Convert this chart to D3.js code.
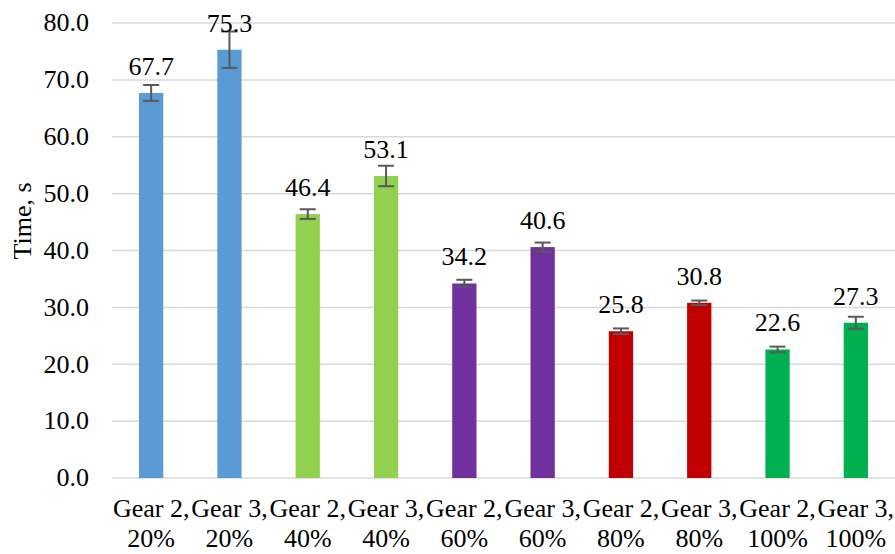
<!DOCTYPE html>
<html>
<head>
<meta charset="utf-8">
<script src="https://cdn.jsdelivr.net/npm/d3@7"></script>
<style>
  html, body { margin: 0; padding: 0; background: #fff; }
</style>
</head>
<body>
<svg id="chart" width="895" height="554"></svg>
<script>
// Mean time per gear / throttle setting, with error bar half-widths
const categories = [
  ["Gear 2,", "20%"], ["Gear 3,", "20%"],
  ["Gear 2,", "40%"], ["Gear 3,", "40%"],
  ["Gear 2,", "60%"], ["Gear 3,", "60%"],
  ["Gear 2,", "80%"], ["Gear 3,", "80%"],
  ["Gear 2,", "100%"], ["Gear 3,", "100%"]
];
const values = [67.7, 75.3, 46.4, 53.1, 34.2, 40.6, 25.8, 30.8, 22.6, 27.3];
const errors = [1.4, 3.2, 0.85, 1.8, 0.65, 0.8, 0.5, 0.4, 0.5, 1.05];
const colors = ["#5B9BD5", "#5B9BD5", "#92D050", "#92D050", "#7030A0",
                "#7030A0", "#C00000", "#C00000", "#00B050", "#00B050"];
const yTicks = [0, 10, 20, 30, 40, 50, 60, 70, 80];
const yTitle = "Time, s";

const FONT = "'Liberation Serif', 'Times New Roman', serif";
const FS = 26;

const svg = d3.select("#chart");
const plotLeft = 112, plotRight = 895, plotTop = 23, plotBottom = 478;

const x = d3.scaleBand().domain(d3.range(values.length)).range([plotLeft, plotRight]).paddingInner(0.69).paddingOuter(0.345);
const y = d3.scaleLinear().domain([0, 80]).range([plotBottom, plotTop]);

// gridlines
svg.append("g").selectAll("line").data(yTicks).join("line")
  .attr("x1", plotLeft).attr("x2", plotRight)
  .attr("y1", d => y(d)).attr("y2", d => y(d))
  .attr("stroke", "#D9D9D9").attr("stroke-width", 1.5);

// y axis labels
const yAxis = d3.axisLeft(y).tickValues(yTicks).tickFormat(d3.format(".1f")).tickSize(0).tickPadding(23);
const gy = svg.append("g").attr("transform", `translate(${plotLeft},0)`).call(yAxis);
gy.select(".domain").remove();
gy.attr("font-family", null).attr("font-size", null);
gy.selectAll("text").style("font-family", FONT).style("font-size", FS + "px")
  .attr("fill", "#000").attr("dy", "0.3em");

// bars
svg.append("g").selectAll("rect").data(values).join("rect")
  .attr("x", (d, i) => x(i)).attr("width", x.bandwidth())
  .attr("y", d => y(d)).attr("height", d => y(0) - y(d))
  .attr("fill", (d, i) => colors[i]);

// error bars
const eg = svg.append("g").attr("stroke", "#595959").attr("stroke-width", 2);
values.forEach((v, i) => {
  const cx = x(i) + x.bandwidth() / 2;
  eg.append("line").attr("x1", cx).attr("x2", cx).attr("y1", y(v + errors[i])).attr("y2", y(v - errors[i]));
  eg.append("line").attr("x1", cx - 8).attr("x2", cx + 8).attr("y1", y(v + errors[i])).attr("y2", y(v + errors[i]));
  eg.append("line").attr("x1", cx - 8).attr("x2", cx + 8).attr("y1", y(v - errors[i])).attr("y2", y(v - errors[i]));
});

// value labels
svg.append("g").selectAll("text").data(values).join("text")
  .attr("x", (d, i) => x(i) + x.bandwidth() / 2)
  .attr("y", d => y(d) - 18)
  .attr("text-anchor", "middle")
  .style("font-family", FONT).style("font-size", FS + "px")
  .text(d => d.toFixed(1));

// category labels (two lines)
const xl = svg.append("g").selectAll("text").data(categories).join("text")
  .attr("text-anchor", "middle")
  .style("font-family", FONT).style("font-size", FS + "px");
xl.append("tspan").attr("x", (d, i) => x(i) + x.bandwidth() / 2).attr("y", 517).text(d => d[0]);
xl.append("tspan").attr("x", (d, i) => x(i) + x.bandwidth() / 2).attr("y", 547).text(d => d[1]);

// y axis title
svg.append("text")
  .attr("transform", `translate(31,221) rotate(-90)`)
  .attr("text-anchor", "middle")
  .style("font-family", FONT).style("font-size", FS + "px")
  .text(yTitle);
</script>
</body>
</html>
